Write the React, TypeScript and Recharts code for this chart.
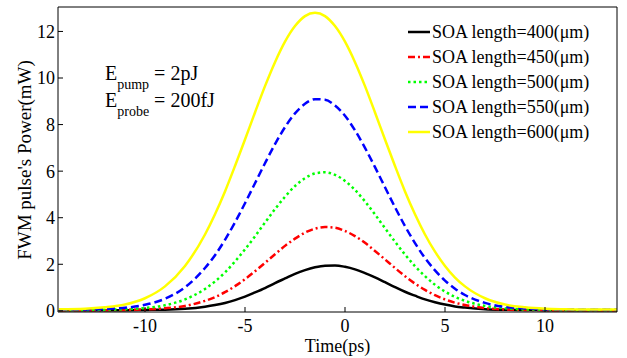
import { LineChart, Line, XAxis, YAxis, Customized } from 'recharts'

const FONT = '"Liberation Serif", "Times New Roman", serif'

// time axis (ps)
const times = [
  -14.3, -13, -12, -11, -10, -9, -8, -7, -6.5, -6, -5.5, -5, -4.5, -4, -3.5, -3, -2.5, -2, -1.5, -1,
  -0.5, 0, 0.5, 1, 1.5, 2, 2.5, 3, 3.5, 4, 4.5, 5, 5.5, 6, 7, 8, 9, 10, 11, 12, 13, 13.6,
]

// FWM pulse power (mW) for each SOA length
const len400 = [
  0.03, 0.03, 0.03, 0.03, 0.04, 0.05, 0.09, 0.18, 0.25, 0.34, 0.46, 0.61, 0.79, 0.98, 1.19, 1.39, 1.59, 1.75, 1.87, 1.94,
  1.95, 1.89, 1.78, 1.62, 1.44, 1.23, 1.02, 0.82, 0.65, 0.49, 0.37, 0.27, 0.19, 0.14, 0.07, 0.045, 0.035, 0.03, 0.03, 0.03, 0.03, 0.03,
]
const len450 = [
  0.03, 0.03, 0.03, 0.04, 0.06, 0.11, 0.21, 0.43, 0.59, 0.8, 1.06, 1.36, 1.7, 2.06, 2.43, 2.79, 3.1, 3.36, 3.53, 3.6,
  3.57, 3.43, 3.21, 2.92, 2.57, 2.21, 1.84, 1.49, 1.17, 0.9, 0.67, 0.49, 0.35, 0.25, 0.12, 0.06, 0.04, 0.03, 0.03, 0.03, 0.03, 0.03,
]
const len500 = [
  0.04, 0.04, 0.05, 0.07, 0.12, 0.24, 0.49, 0.94, 1.26, 1.65, 2.12, 2.64, 3.2, 3.79, 4.37, 4.9, 5.36, 5.7, 5.9, 5.95,
  5.84, 5.58, 5.19, 4.7, 4.14, 3.55, 2.97, 2.42, 1.92, 1.49, 1.12, 0.83, 0.6, 0.43, 0.21, 0.11, 0.06, 0.05, 0.04, 0.04, 0.04, 0.04,
]
const len550 = [
  0.05, 0.06, 0.08, 0.13, 0.26, 0.52, 1.01, 1.84, 2.39, 3.05, 3.8, 4.62, 5.48, 6.34, 7.16, 7.89, 8.48, 8.89, 9.09, 9.07,
  8.82, 8.38, 7.75, 7.0, 6.17, 5.31, 4.45, 3.64, 2.91, 2.27, 1.74, 1.3, 0.95, 0.68, 0.34, 0.17, 0.1, 0.07, 0.06, 0.05, 0.05, 0.05,
]
const len600 = [
  0.07, 0.09, 0.15, 0.27, 0.54, 1.05, 1.93, 3.28, 4.15, 5.13, 6.22, 7.36, 8.52, 9.65, 10.68, 11.56, 12.23, 12.66, 12.8, 12.66,
  12.23, 11.56, 10.68, 9.65, 8.52, 7.36, 6.22, 5.13, 4.15, 3.28, 2.54, 1.93, 1.43, 1.05, 0.54, 0.27, 0.15, 0.09, 0.07, 0.06, 0.06, 0.06,
]

const xTicks = [-10, -5, 0, 5, 10]
const yTicks = [0, 2, 4, 6, 8, 10, 12]
const xDomain: [number, number] = [-14.35, 13.6]
const yDomain: [number, number] = [-0.05, 13.05]

const series = [
  { key: 'l400', name: 'SOA length=400(\u03bcm)', color: '#000000', dash: undefined, values: len400 },
  { key: 'l450', name: 'SOA length=450(\u03bcm)', color: '#ff0000', dash: '7 3 2 3', values: len450 },
  { key: 'l500', name: 'SOA length=500(\u03bcm)', color: '#00ff00', dash: '2.5 3', values: len500 },
  { key: 'l550', name: 'SOA length=550(\u03bcm)', color: '#0000ff', dash: '8 4', values: len550 },
  { key: 'l600', name: 'SOA length=600(\u03bcm)', color: '#ffff00', dash: undefined, values: len600 },
]

const data = times.map((t, i) => {
  const row: Record<string, number> = { t }
  series.forEach((s) => { row[s.key] = s.values[i] })
  return row
})

// serif tick labels
const XTick = (p: any) => (
  <text x={p.x} y={p.y} dy="0.71em" textAnchor="middle" fontSize={18} fontFamily={FONT} fill="#000">
    {p.payload.value}
  </text>
)
const YTick = (p: any) => (
  <text x={p.x} y={p.y} dy="0.355em" textAnchor="end" fontSize={18} fontFamily={FONT} fill="#000">
    {p.payload.value}
  </text>
)

function Overlay() {
  return (
    <g fontFamily={FONT} fill="#000">
      {/* annotation */}
      <text x={105} y={80} fontSize={20}>
        E<tspan fontSize={14} dy={9}>pump</tspan><tspan fontSize={20} dy={-9}> = 2pJ</tspan>
      </text>
      <text x={105} y={107} fontSize={20}>
        E<tspan fontSize={14} dy={9}>probe</tspan><tspan fontSize={20} dy={-9}> = 200fJ</tspan>
      </text>

      {/* legend */}
      {series.map((s, i) => {
        const y = 32 + i * 25
        return (
          <g key={s.key}>
            <line x1={408} x2={430} y1={y} y2={y} stroke={s.color} strokeWidth={2.5} strokeDasharray={s.dash} />
            <text x={432} y={y + 6} fontSize={18} fontFamily={FONT}>{s.name}</text>
          </g>
        )
      })}

      {/* axis titles */}
      <text x={337.5} y={352} fontSize={18} textAnchor="middle">Time(ps)</text>
      <text x={31} y={160} fontSize={19} textAnchor="middle" transform="rotate(-90, 31, 160)">
        FWM pulse's Power(mW)
      </text>
    </g>
  )
}

export default function App() {
  const axisLine = { stroke: '#000', strokeWidth: 1 }
  return (
    <div style={{ position: 'absolute', left: 0, top: 0, width: 627, height: 358, background: '#fff', fontFamily: FONT }}>
      <LineChart width={627} height={358} data={data} margin={{ top: 0, right: 0, bottom: 0, left: 0 }}>
        <XAxis
          xAxisId="b" dataKey="t" type="number" domain={xDomain} ticks={xTicks} allowDataOverflow
          height={46} tickSize={-5} tickMargin={12} interval={0}
          axisLine={axisLine} tickLine={axisLine} tick={XTick}
        />
        <XAxis
          xAxisId="top" orientation="top" dataKey="t" type="number" domain={xDomain} ticks={xTicks} allowDataOverflow
          height={7} tickSize={-5} interval={0} axisLine={axisLine} tickLine={axisLine} tick={false}
        />
        <YAxis
          yAxisId="l" type="number" domain={yDomain} ticks={yTicks} allowDataOverflow
          width={58} tickSize={-5} tickMargin={8} interval={0}
          axisLine={axisLine} tickLine={axisLine} tick={YTick}
        />
        <YAxis
          yAxisId="r" orientation="right" type="number" domain={yDomain} ticks={yTicks} allowDataOverflow
          width={10} tickSize={-5} interval={0} axisLine={axisLine} tickLine={axisLine} tick={false}
        />
        {series.map((s) => (
          <Line
            key={s.key}
            xAxisId="b"
            yAxisId="l"
            type="monotone"
            dataKey={s.key}
            name={s.name}
            stroke={s.color}
            strokeWidth={2.5}
            strokeDasharray={s.dash}
            dot={false}
            activeDot={false}
            isAnimationActive={false}
          />
        ))}
        <Customized component={Overlay} />
      </LineChart>
    </div>
  )
}
